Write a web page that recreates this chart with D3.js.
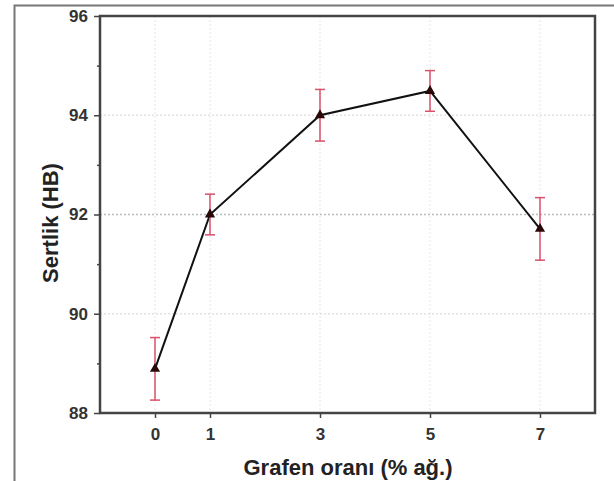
<!DOCTYPE html>
<html>
<head>
<meta charset="utf-8">
<script src="https://cdn.jsdelivr.net/npm/d3@7"></script>
<style>
  body { margin: 0; background: #fff; }
  text { font-family: "Liberation Sans", Arial, sans-serif; }
</style>
</head>
<body>
<div id="chart"></div>
<script>
// grafen oranı (% ağ.) ve sertlik (HB)
const grafen = [0, 1, 3, 5, 7];
const sertlik = [88.89, 92.0, 94.0, 94.49, 91.71];
const hata = [0.63, 0.41, 0.52, 0.41, 0.63];
const xTicks = [0, 1, 3, 5, 7];
const yTicks = [88, 90, 92, 94, 96];
const yMinor = [89, 91, 93, 95];

const width = 614;
const height = 481;
const marginLeft = 100;
const marginRight = 19;
const marginTop = 16;
const marginBottom = 68;

const svg = d3.select("#chart").append("svg")
    .attr("width", width)
    .attr("height", height);

// dış çerçeve
svg.append("path")
    .attr("d", `M14.5,${height} V5.5 H${width}`)
    .attr("fill", "none")
    .attr("stroke", "#777")
    .attr("stroke-width", 2);

const x = d3.scaleLinear()
    .domain([-1, 8])
    .range([marginLeft, width - marginRight]);

const y = d3.scaleLinear()
    .domain([88, 96])
    .range([height - marginBottom, marginTop]);

// grid
svg.append("g")
    .selectAll("line")
    .data(yTicks.slice(1, -1))
    .join("line")
    .attr("x1", marginLeft).attr("x2", width - marginRight)
    .attr("y1", d => y(d)).attr("y2", d => y(d))
    .attr("stroke", d => d === 92 ? "#bbb" : "#e2e2e2")
    .attr("stroke-width", 1.5)
    .attr("stroke-dasharray", "2,2");

svg.append("g")
    .selectAll("line")
    .data(xTicks)
    .join("line")
    .attr("x1", d => x(d)).attr("x2", d => x(d))
    .attr("y1", marginTop).attr("y2", height - marginBottom)
    .attr("stroke", "#e6e6e6")
    .attr("stroke-width", 1)
    .attr("stroke-dasharray", "2,2");

// eksenler
const gx = svg.append("g")
    .attr("transform", `translate(0,${height - marginBottom})`)
    .call(d3.axisBottom(x).tickValues(xTicks).tickSize(5).tickPadding(10).tickSizeOuter(0));

const gy = svg.append("g")
    .attr("transform", `translate(${marginLeft},0)`)
    .call(d3.axisLeft(y).tickValues(yTicks).tickSize(6).tickPadding(6).tickSizeOuter(0));

svg.append("g")
    .attr("transform", `translate(${marginLeft},0)`)
    .call(d3.axisLeft(y).tickValues(yMinor).tickSize(3).tickFormat(() => "").tickSizeOuter(0))
    .call(g => g.select(".domain").remove())
    .selectAll("line").attr("stroke", "#444").attr("stroke-width", 1.5);

[gx, gy].forEach(g => {
    g.select(".domain").remove();
    g.selectAll(".tick line").attr("stroke", "#444").attr("stroke-width", 1.5);
    g.selectAll(".tick text")
        .attr("font-size", 17)
        .attr("font-weight", "bold")
        .attr("fill", "#333");
});

// çerçeve
svg.append("rect")
    .attr("x", marginLeft)
    .attr("y", marginTop)
    .attr("width", width - marginLeft - marginRight)
    .attr("height", height - marginTop - marginBottom)
    .attr("fill", "none")
    .attr("stroke", "#444")
    .attr("stroke-width", 2.5);

const data = grafen.map((g, i) => ({ g: g, v: sertlik[i], e: hata[i] }));

// çizgi
svg.append("path")
    .datum(data)
    .attr("fill", "none")
    .attr("stroke", "#111")
    .attr("stroke-width", 2)
    .attr("d", d3.line().x(d => x(d.g)).y(d => y(d.v)));

// hata çubukları
const eb = svg.append("g")
    .attr("stroke", "#d9506a")
    .attr("stroke-width", 1.5)
    .selectAll("g")
    .data(data)
    .join("g");

eb.append("line")
    .attr("x1", d => x(d.g)).attr("x2", d => x(d.g))
    .attr("y1", d => y(d.v + d.e)).attr("y2", d => y(d.v - d.e));
eb.append("line")
    .attr("x1", d => x(d.g) - 5).attr("x2", d => x(d.g) + 5)
    .attr("y1", d => y(d.v + d.e)).attr("y2", d => y(d.v + d.e));
eb.append("line")
    .attr("x1", d => x(d.g) - 5).attr("x2", d => x(d.g) + 5)
    .attr("y1", d => y(d.v - d.e)).attr("y2", d => y(d.v - d.e));

// işaretler
svg.append("g")
    .selectAll("path")
    .data(data)
    .join("path")
    .attr("transform", d => `translate(${x(d.g)},${y(d.v)})`)
    .attr("d", d3.symbol(d3.symbolTriangle, 45))
    .attr("fill", "#2a0808");

// eksen başlıkları
svg.append("text")
    .attr("x", 348)
    .attr("y", 475)
    .attr("text-anchor", "middle")
    .attr("font-size", 22)
    .attr("font-weight", "bold")
    .attr("fill", "#222")
    .text("Grafen oranı (% ağ.)");

svg.append("text")
    .attr("transform", "translate(58,223) rotate(-90)")
    .attr("text-anchor", "middle")
    .attr("font-size", 22)
    .attr("font-weight", "bold")
    .attr("fill", "#222")
    .text("Sertlik (HB)");
</script>
</body>
</html>
